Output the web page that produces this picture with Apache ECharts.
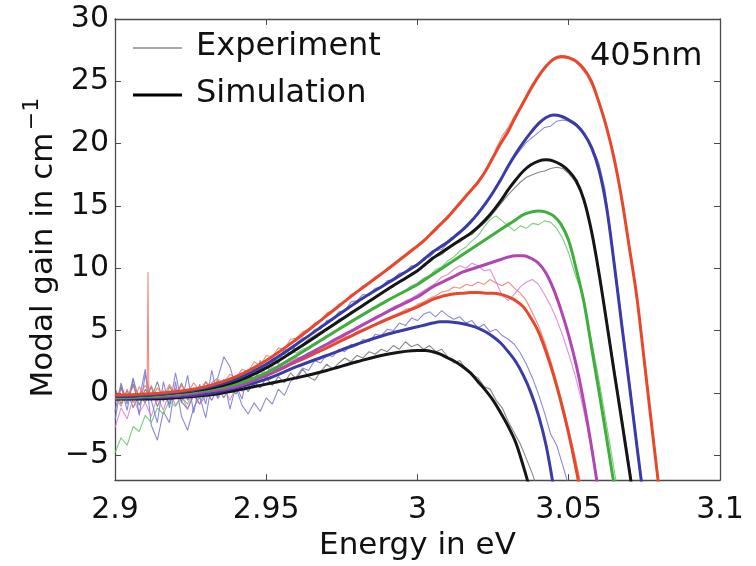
<!DOCTYPE html>
<html>
<head>
<meta charset="utf-8">
<title>Modal gain, 405nm</title>
<script src="https://cdn.jsdelivr.net/npm/echarts@6/dist/echarts.min.js"></script>
<style>
  html, body { margin: 0; padding: 0; background: #ffffff; }
  #chart { width: 756px; height: 566px; }
</style>
</head>
<body>
<div id="chart"></div>
<script>
// ---- axes ----
const xTicks = [2.9, 2.95, 3.0, 3.05, 3.1];
const yTicks = [-5, 0, 5, 10, 15, 20, 25, 30];

// ---- simulated gain spectra (eV grid, finer near the gain peak) ----
const simX = [2.90, 2.91, 2.92, 2.93, 2.94, 2.95, 2.96, 2.97, 2.98, 2.99,
  3.000, 3.0025, 3.005, 3.0075, 3.010, 3.0125, 3.015, 3.0175, 3.020, 3.0225,
  3.025, 3.0275, 3.030, 3.0325, 3.035, 3.0375, 3.040, 3.0425, 3.045, 3.0475,
  3.050, 3.0525, 3.055, 3.0575, 3.060, 3.0625, 3.065, 3.0675, 3.070, 3.0725,
  3.075, 3.0775, 3.080];

const simBlackLow = [-0.5, -0.5, -0.4, -0.2, 0.2, 0.7, 1.2, 1.8, 2.5, 3.1,
  3.4, 3.4, 3.3, 3.1, 2.8, 2.5, 2.1, 1.6, 0.9, 0.2,
  -0.6, -1.6, -2.7, -4.0, -5.9, -8.0];
const simBlueLow = [-0.5, -0.4, -0.3, -0.1, 0.4, 1.1, 2.1, 3.0, 3.9, 4.7,
  5.3, 5.45, 5.6, 5.7, 5.7, 5.65, 5.55, 5.4, 5.2, 4.9,
  4.5, 4.0, 3.3, 2.5, 1.4, 0.0, -1.8, -4.2, -7.6];
const simRedLow = [-0.4, -0.3, -0.2, 0.1, 0.6, 1.4, 2.5, 3.6, 4.8, 5.9,
  6.9, 7.2, 7.5, 7.7, 7.85, 7.95, 8.0, 8.05, 8.05, 8.0,
  8.0, 7.9, 7.7, 7.4, 6.9, 6.0, 4.9, 3.3, 1.4, -0.8,
  -3.3, -6.2, -9.5];
const simMagenta = [-0.4, -0.3, -0.2, 0.1, 0.5, 1.4, 2.6, 3.9, 5.2, 6.5,
  7.7, 8.1, 8.5, 8.8, 9.1, 9.4, 9.7, 9.9, 10.1, 10.3,
  10.5, 10.7, 10.9, 11.0, 11.0, 10.8, 10.4, 9.6, 8.3, 6.6,
  4.6, 2.2, -0.8, -4.3, -8.2];
const simGreen = [-0.4, -0.3, -0.1, 0.2, 0.7, 1.6, 3.0, 4.5, 6.0, 7.4,
  8.7, 9.1, 9.5, 9.9, 10.3, 10.7, 11.1, 11.5, 11.9, 12.3,
  12.7, 13.1, 13.5, 13.9, 14.3, 14.5, 14.6, 14.5, 14.2, 13.5,
  12.2, 9.9, 7.3, 3.7, 0.1, -3.6, -7.4, -11.2];
const simBlackHigh = [-0.3, -0.2, 0.0, 0.3, 0.9, 2.0, 3.5, 5.1, 6.7, 8.3,
  9.8, 10.3, 10.8, 11.2, 11.6, 12.0, 12.4, 12.8, 13.3, 13.9,
  14.6, 15.4, 16.3, 17.1, 17.8, 18.3, 18.6, 18.7, 18.6, 18.3,
  17.8, 17.0, 15.5, 13.0, 9.6, 5.7, 1.7, -2.2, -6.2, -10.2];
const simBlueHigh = [-0.3, -0.2, 0.0, 0.4, 1.1, 2.3, 3.9, 5.6, 7.3, 8.8,
  10.3, 10.8, 11.3, 11.7, 12.1, 12.6, 13.1, 13.7, 14.4, 15.2,
  16.1, 17.1, 18.2, 19.2, 20.1, 20.9, 21.6, 22.1, 22.3, 22.2,
  21.9, 21.5, 20.8, 19.7, 17.9, 14.9, 10.4, 5.5, 0.7, -4.2,
  -9.0];
const simRedHigh = [-0.2, -0.1, 0.1, 0.5, 1.3, 2.6, 4.3, 6.2, 8.1, 9.9,
  11.8, 12.3, 12.9, 13.5, 14.1, 14.8, 15.5, 16.2, 16.9, 17.8,
  18.9, 20.0, 21.0, 22.2, 23.3, 24.4, 25.4, 26.2, 26.8, 27.0,
  26.9, 26.6, 26.0, 25.0, 23.3, 21.3, 18.8, 15.6, 11.7, 7.7,
  2.5, -2.8, -8.0];

// ---- measured gain spectra (2 meV steps) ----
const expX = [2.900, 2.902, 2.904, 2.906, 2.908, 2.910, 2.912, 2.914, 2.916, 2.918,
  2.920, 2.922, 2.924, 2.926, 2.928, 2.930, 2.932, 2.934, 2.936, 2.938,
  2.940, 2.942, 2.944, 2.946, 2.948, 2.950, 2.952, 2.954, 2.956, 2.958,
  2.960, 2.962, 2.964, 2.966, 2.968, 2.970, 2.972, 2.974, 2.976, 2.978,
  2.980, 2.982, 2.984, 2.986, 2.988, 2.990, 2.992, 2.994, 2.996, 2.998,
  3.000, 3.002, 3.004, 3.006, 3.008, 3.010, 3.012, 3.014, 3.016, 3.018,
  3.020, 3.022, 3.024, 3.026, 3.028, 3.030, 3.032, 3.034, 3.036, 3.038,
  3.040, 3.042, 3.044, 3.046, 3.048, 3.050, 3.052, 3.054, 3.056, 3.058,
  3.060, 3.062, 3.064, 3.066, 3.068, 3.070, 3.072, 3.074, 3.076, 3.078,
  3.080];

const expBlackLow = [0.4, -0.9, 0.2, -1.2, -0.1, -0.8, 0.5, -1.1, 0.0, -0.9,
  0.3, -0.7, -1.3, -0.2, -0.9, 0.2, -0.6, 0.4, -0.4, 0.6,
  -0.1, 0.8, 0.1, 0.9, 0.4, 1.2, 0.6, 1.3, 0.8, 1.6,
  1.1, 1.9, 1.3, 1.0, 1.7, 2.3, 1.9, 2.4, 2.8, 2.5,
  3.0, 2.8, 3.3, 3.1, 3.5, 3.3, 3.8, 3.5, 4.1, 3.7,
  3.9, 3.5, 3.8, 3.3, 3.5, 2.9, 2.4, 2.6, 1.9, 1.5,
  1.2, 0.5, 0.3, -0.6, -1.2, -2.3, -3.2, -4.1, -5.3, -6.5,
  -8.0];
const expBlueLow = [-2.2, 0.6, -1.4, 1.1, -0.5, 1.9, -2.6, -3.8, -1.5, -2.4,
  0.9, -1.9, -3.0, -1.2, -0.3, -2.0, 0.8, 1.2, 2.9, 2.1,
  0.4, -1.0, -1.7, -0.8, -1.5, -0.4, -0.9, 0.3, -0.2, 0.9,
  1.3, 2.0, 1.8, 2.6, 2.4, 3.1, 2.9, 3.5, 3.3, 3.9,
  3.8, 4.3, 4.1, 4.7, 4.6, 5.1, 5.0, 5.6, 5.4, 6.0,
  5.8, 6.3, 6.5, 6.1, 6.6, 6.2, 5.9, 6.1, 5.6, 5.8,
  5.2, 5.5, 4.9, 5.1, 4.6, 4.3, 3.9, 3.2, 2.3, 1.2,
  -0.1, -1.6, -3.3, -4.2, -5.8, -7.5];
const expRedLow = [-0.2, -1.1, 0.3, -0.8, 0.5, -0.4, 0.6, -0.7, 0.2, -0.5,
  0.4, -0.6, 0.3, -0.2, 0.5, -0.1, 0.7, 0.2, 0.9, 0.5,
  1.0, 0.8, 1.3, 1.2, 1.7, 1.5, 2.1, 2.0, 2.5, 2.5,
  2.8, 2.9, 3.2, 3.3, 3.6, 3.7, 4.0, 4.2, 4.5, 4.6,
  4.9, 5.1, 5.3, 5.5, 5.8, 6.0, 6.2, 6.4, 6.7, 6.8,
  7.1, 7.3, 7.6, 7.8, 8.1, 8.2, 8.5, 8.4, 8.7, 8.6,
  8.9, 8.7, 9.1, 8.8, 8.6, 8.9, 8.4, 8.0, 7.4, 6.4,
  5.4, 4.1, 2.6, 0.9, -0.9, -2.9, -5.0, -7.3];
const expMagenta = [-2.8, -1.2, -2.1, -0.4, -1.6, -0.8, -1.9, -0.3, -1.4, 0.2,
  -1.0, -0.2, -1.3, 0.1, -0.9, -0.3, 0.6, -0.5, 0.4, -0.6,
  0.5, 0.1, 1.0, 0.6, 1.5, 1.2, 1.9, 1.8, 2.5, 2.3,
  2.8, 2.9, 3.2, 3.4, 3.7, 3.9, 4.3, 4.5, 4.8, 5.0,
  5.3, 5.6, 5.8, 6.1, 6.3, 6.6, 6.9, 7.1, 7.4, 7.6,
  7.9, 8.2, 8.5, 8.8, 9.3, 9.5, 9.9, 10.2, 10.0, 10.4,
  10.2, 9.8, 9.9, 8.9, 7.8, 7.4, 7.9, 8.5, 8.9, 9.1,
  8.7, 7.9, 7.0, 5.9, 4.6, 3.1, 1.5, -0.4, -2.6, -5.2,
  -8.2];
const expGreen = [-4.8, -3.6, -4.2, -2.7, -3.1, -1.8, -2.4, -1.2, -1.7, -0.6,
  -1.1, -0.3, -0.9, 0.2, -0.5, 0.4, -0.2, 0.7, 0.3, 1.0,
  0.6, 1.3, 1.1, 1.8, 1.7, 2.2, 2.3, 2.8, 2.8, 3.3,
  3.2, 3.5, 3.7, 4.0, 4.3, 4.6, 4.8, 5.2, 5.4, 5.8,
  6.0, 6.3, 6.6, 6.8, 7.2, 7.4, 7.7, 8.0, 8.2, 8.6,
  8.8, 9.2, 9.4, 9.9, 10.1, 10.6, 10.9, 11.4, 11.7, 12.2,
  12.6, 13.3, 13.9, 14.2, 13.8, 13.4, 13.0, 13.4, 13.2, 13.6,
  13.5, 13.8, 13.7, 13.2, 12.4, 11.2, 9.6, 8.2, 6.2, 3.6,
  1.0, -1.8, -4.7, -7.6];
const expBlackHigh = [-0.8, 0.4, -0.6, 0.7, -1.0, 0.3, -0.5, 0.9, -0.7, 0.5,
  -0.3, 0.8, -0.6, 0.4, -0.2, 0.9, 0.0, 1.0, 0.3, 1.2,
  0.6, 1.5, 1.1, 2.0, 1.8, 2.4, 2.4, 3.0, 3.1, 3.5,
  3.6, 3.9, 4.3, 4.6, 4.9, 5.2, 5.5, 5.9, 6.1, 6.5,
  6.7, 7.1, 7.4, 7.6, 8.0, 8.3, 8.5, 8.9, 9.1, 9.6,
  9.8, 10.2, 10.5, 10.9, 11.1, 11.5, 11.9, 12.1, 12.5, 12.7,
  13.2, 13.6, 14.1, 14.7, 15.3, 15.9, 16.4, 16.9, 17.3, 17.5,
  17.7, 17.8, 18.0, 18.1, 18.0, 17.6, 17.0, 16.1, 14.6, 12.6,
  9.8, 6.8, 3.6, 0.5, -2.6, -5.7, -9.0];
const expBlueHigh = [-1.5, 0.8, -0.9, 1.2, -1.8, 1.5, -0.6, -2.4, 0.9, -1.2,
  1.6, -0.8, 1.4, -1.6, 0.7, -0.9, 1.8, -0.4, 1.1, -1.3,
  0.6, -0.5, 1.8, 0.4, 2.6, 1.2, 2.9, 2.3, 3.6, 3.1,
  4.0, 4.4, 4.5, 5.1, 5.1, 5.8, 5.9, 6.5, 6.6, 7.3,
  7.4, 7.9, 7.8, 8.4, 8.5, 9.0, 9.1, 9.6, 9.7, 10.2,
  10.2, 10.8, 10.9, 11.4, 11.5, 12.0, 12.4, 12.8, 13.3, 13.8,
  14.3, 15.0, 15.8, 16.6, 17.3, 18.1, 18.9, 19.5, 20.1, 20.5,
  20.9, 21.3, 21.4, 21.8, 21.9, 21.8, 21.5, 21.0, 20.4, 19.6,
  18.4, 16.3, 12.6, 8.8, 4.9, 1.1, -2.9, -7.0, -11.0];
const expRedHigh = [-0.6, 0.3, -0.4, 0.5, -0.2, 0.6, -0.5, 0.4, -0.3, 0.7,
  -0.2, 0.6, 0.0, 0.8, 0.2, 0.9, 0.4, 1.1, 0.8, 1.5,
  1.2, 1.9, 1.7, 2.5, 2.2, 3.0, 2.9, 3.6, 3.5, 4.3,
  4.4, 4.9, 5.1, 5.6, 5.8, 6.4, 6.6, 7.1, 7.3, 7.9,
  8.1, 8.6, 8.8, 9.3, 9.5, 10.0, 10.3, 10.7, 11.0, 11.4,
  11.7, 12.1, 12.6, 13.0, 13.6, 14.0, 14.6, 15.1, 15.8, 16.3,
  16.9, 17.7, 18.5, 19.6, 20.6, 21.3, 22.2, 23.0, 23.9, 24.8,
  25.5, 26.1, 26.6, 26.8, 26.9, 26.8, 26.6, 26.1, 25.5, 24.5,
  23.2, 21.7, 19.8, 17.6, 15.0, 11.9, 8.6, 4.7, 0.6, -3.6,
  -8.0];
// single-channel glitch in one measured trace
const spikeX = [2.9106, 2.9109, 2.9112];
const spikeY = [-0.3, 9.7, -0.4];

// ---- styling ----
const FONT = '"DejaVu Sans", "Liberation Sans", Arial, sans-serif';
const C = {
  red: '#e6482c', blue: '#3b3ba6', black: '#151515', green: '#3fae3f', magenta: '#b146b1'
};
const CE = {
  red: 'rgba(238,112,96,0.8)', blue: 'rgba(118,118,208,0.85)', black: 'rgba(105,105,105,0.8)',
  green: 'rgba(105,196,105,0.85)', magenta: 'rgba(214,118,214,0.8)'
};

const pairs = (xs, ys) => ys.map((y, i) => [xs[i], y]);

const simSets = [
  ['Simulation', simBlackLow, C.black],
  ['Simulation', simBlueLow, C.blue],
  ['Simulation', simRedLow, C.red],
  ['Simulation', simMagenta, C.magenta],
  ['Simulation', simGreen, C.green],
  ['Simulation', simBlackHigh, C.black],
  ['Simulation', simBlueHigh, C.blue],
  ['Simulation', simRedHigh, C.red]
];
const expSets = [
  ['Experiment', expBlackLow, CE.black],
  ['Experiment', expBlueLow, CE.blue],
  ['Experiment', expRedLow, CE.red],
  ['Experiment', expMagenta, CE.magenta],
  ['Experiment', expGreen, CE.green],
  ['Experiment', expBlackHigh, CE.black],
  ['Experiment', expBlueHigh, CE.blue],
  ['Experiment', expRedHigh, CE.red]
];

const series = [];
expSets.forEach(([name, ys, color]) => {
  series.push({
    name, type: 'line', data: pairs(expX, ys), showSymbol: false, silent: true,
    lineStyle: { color, width: 1.1 }, z: 2, animation: false
  });
});
series.push({
  name: 'Experiment', type: 'line', data: pairs(spikeX, spikeY), showSymbol: false,
  silent: true, lineStyle: { color: CE.red, width: 1.1 }, z: 2, animation: false
});
simSets.forEach(([name, ys, color]) => {
  series.push({
    name, type: 'line', data: pairs(simX, ys), showSymbol: false, silent: true,
    smooth: 0.35, lineStyle: { color, width: 3 }, z: 3, animation: false
  });
});

const axisColor = '#4a4a4a';
const fmtX = v => String(parseFloat(Number(v).toFixed(3)));
const fmtY = v => String(v).replace('-', '\u2212');

const chart = echarts.init(document.getElementById('chart'), null, { renderer: 'canvas' });
chart.setOption({
  backgroundColor: '#ffffff',
  animation: false,
  grid: { left: 115, right: 36, top: 19, bottom: 82, containLabel: false },
  xAxis: [{
    type: 'value', min: 2.9, max: 3.1, interval: 0.05, position: 'bottom',
    axisLine: { show: true, onZero: false, lineStyle: { color: axisColor, width: 1.3 } },
    axisTick: { show: true, inside: true, length: 6, lineStyle: { color: axisColor } },
    splitLine: { show: false },
    axisLabel: { formatter: fmtX, color: '#111', fontSize: 30, fontFamily: FONT, margin: 15 },
    name: 'Energy in eV', nameLocation: 'middle', nameGap: 46,
    nameTextStyle: { color: '#111', fontSize: 31, fontFamily: FONT }
  }, {
    type: 'value', min: 2.9, max: 3.1, interval: 0.05, position: 'top',
    axisLine: { show: true, onZero: false, lineStyle: { color: axisColor, width: 1.3 } },
    axisTick: { show: true, inside: true, length: 6, lineStyle: { color: axisColor } },
    axisLabel: { show: false }, splitLine: { show: false }
  }],
  yAxis: [{
    type: 'value', min: -7, max: 30, position: 'left',
    axisLine: { show: true, onZero: false, lineStyle: { color: axisColor, width: 1.3 } },
    axisTick: { show: true, inside: true, length: 6, customValues: yTicks, lineStyle: { color: axisColor } },
    splitLine: { show: false },
    axisLabel: { customValues: yTicks, formatter: fmtY, color: '#111', fontSize: 30, fontFamily: FONT, margin: 6 }
  }, {
    type: 'value', min: -7, max: 30, position: 'right',
    axisLine: { show: true, onZero: false, lineStyle: { color: axisColor, width: 1.3 } },
    axisTick: { show: true, inside: true, length: 6, customValues: yTicks, lineStyle: { color: axisColor } },
    axisLabel: { show: false }, splitLine: { show: false }
  }],
  series: series.map(s => Object.assign(s, { xAxisIndex: 0, yAxisIndex: 0 })),
  graphic: [
    // legend
    { type: 'line', shape: { x1: 133, y1: 48, x2: 182, y2: 48 }, style: { stroke: '#8a8a8a', lineWidth: 1.3 }, silent: true },
    { type: 'line', shape: { x1: 133, y1: 95, x2: 182, y2: 95 }, style: { stroke: '#000000', lineWidth: 3 }, silent: true },
    { type: 'text', x: 196, y: 47, style: { text: 'Experiment', font: '32px ' + FONT, fill: '#111', verticalAlign: 'middle' }, silent: true },
    { type: 'text', x: 196, y: 94, style: { text: 'Simulation', font: '32px ' + FONT, fill: '#111', verticalAlign: 'middle' }, silent: true },
    // wavelength tag
    { type: 'text', x: 590, y: 57, style: { text: '405nm', font: '32px ' + FONT, fill: '#111', verticalAlign: 'middle' }, silent: true },
    // y axis title with superscript
    { type: 'text', x: 44, y: 265, rotation: Math.PI / 2,
      style: { text: 'Modal gain in cm', font: '31px ' + FONT, fill: '#111', align: 'center', verticalAlign: 'middle' }, silent: true },
    { type: 'text', x: 32, y: 114, rotation: Math.PI / 2,
      style: { text: '\u22121', font: '22px ' + FONT, fill: '#111', align: 'center', verticalAlign: 'middle' }, silent: true }
  ]
});
</script>
</body>
</html>
